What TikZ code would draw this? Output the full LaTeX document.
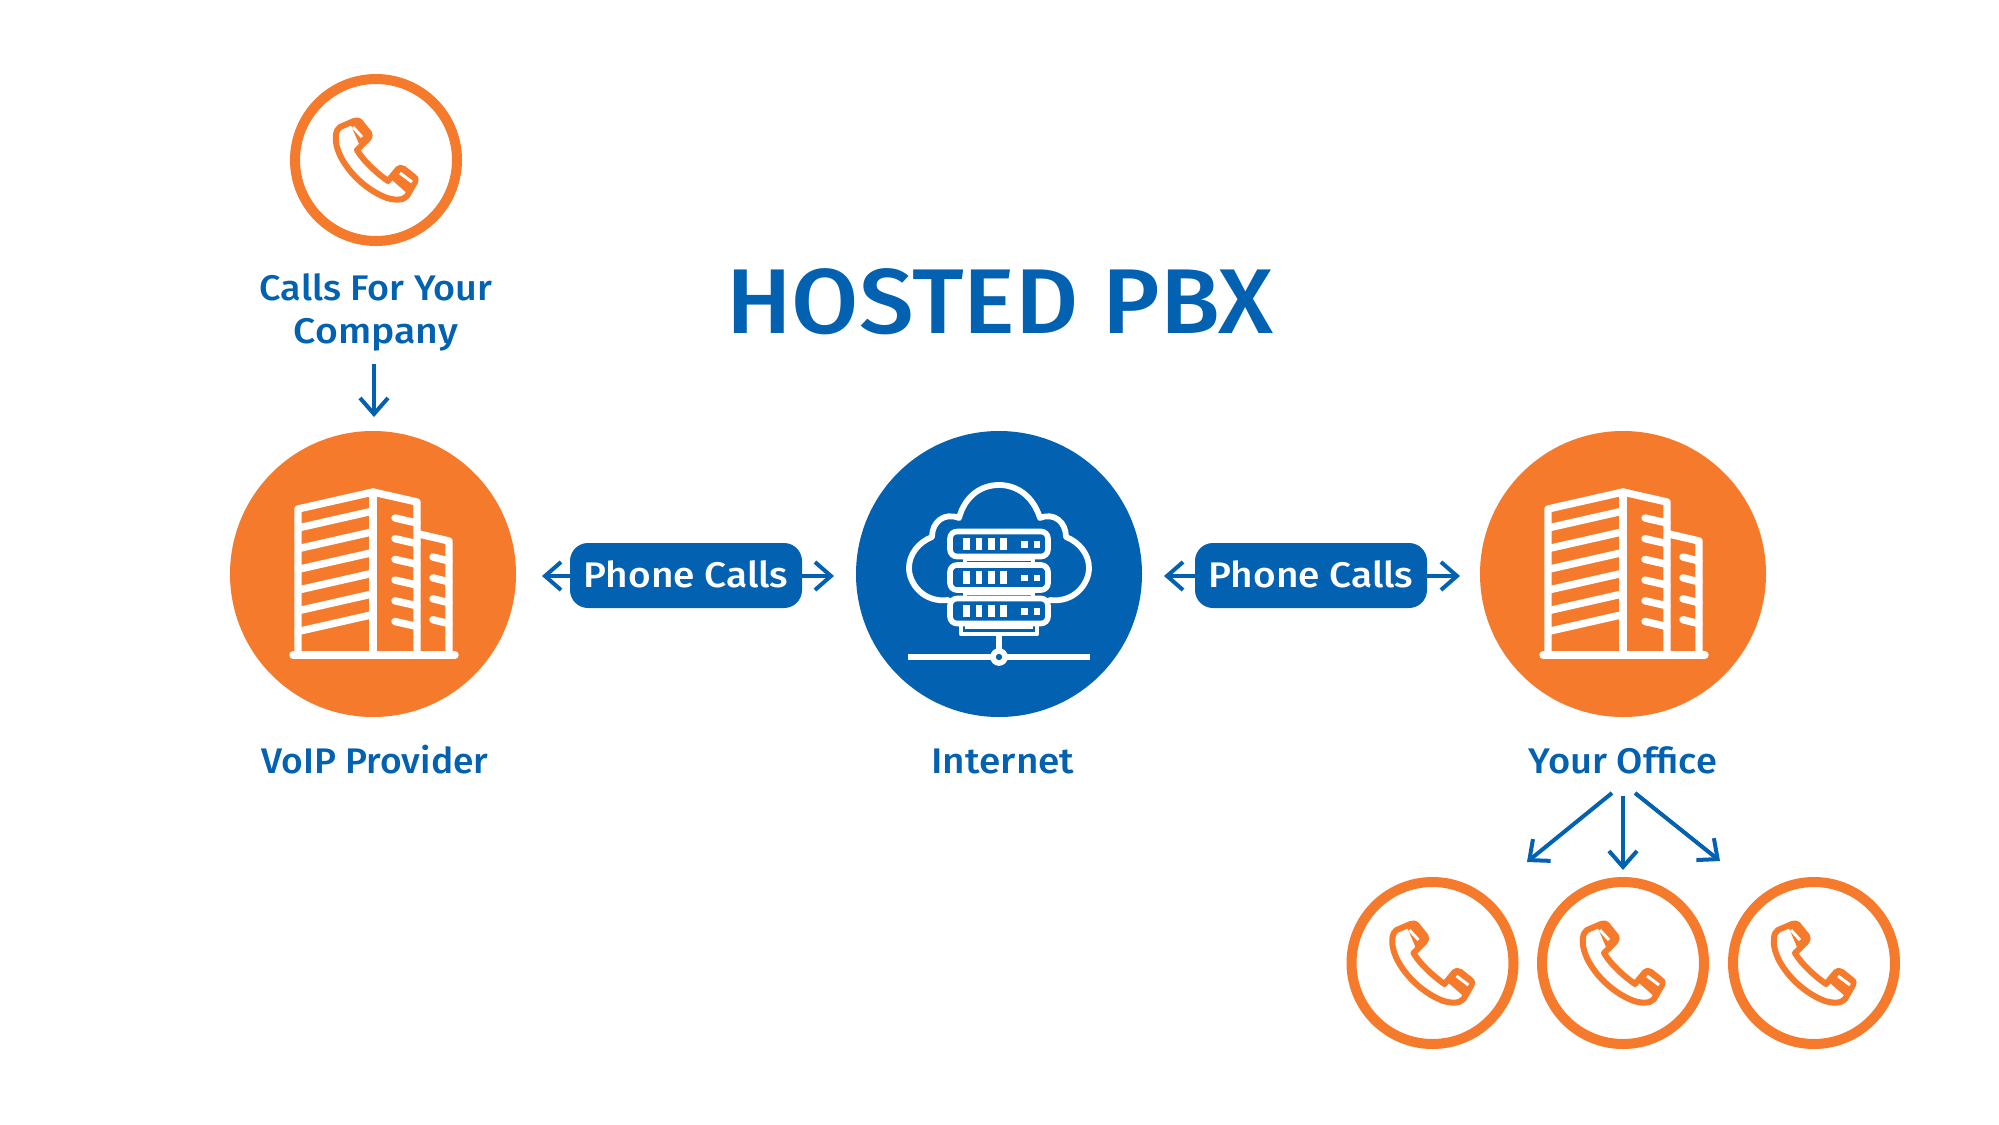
\documentclass[tikz,border=0pt]{standalone}
\usepackage{fontspec}
\setmainfont{Open Sans}
\usetikzlibrary{arrows.meta}
\definecolor{vorange}{HTML}{F57A2B}
\definecolor{vblue}{HTML}{0361B1}
\newfontfamily\medface{Fira Sans Medium}
\newcommand{\widetxt}[2]{\scalebox{#1}[1]{#2}}
\tikzset{
 arr/.style={draw=vblue,line width=2pt,-{Straight Barb[length=8pt,width=14pt,line width=2pt]}},
 ring/.style={circle,draw=vorange,line width=5pt,minimum size=81pt,inner sep=0pt,fill=white},
 bigdisc/.style={circle,minimum size=143pt,inner sep=0pt},
 lbl/.style={anchor=base,inner sep=0pt,text=vblue,font=\medface\fontsize{17.8}{20}\selectfont},
 pilltxt/.style={anchor=base,inner sep=0pt,text=white,font=\medface\fontsize{17.8}{20}\selectfont},
 pill/.style={rounded corners=9pt,fill=vblue,minimum width=116pt,minimum height=32.5pt,inner sep=0pt},
 iconw/.style={draw=white,line width=3.7pt,line join=round,line cap=round},
 phoneline/.style={draw=vorange,line width=3pt,line join=round,line cap=round},
}
\newcommand{\handset}[1]{%
 \begin{scope}[shift={(#1)}]
  \fill[vorange] (-26,-37) -- (-16,-38) -- (-7,-25) -- (-17,-16) -- cycle;
  \fill[vorange] (23,9) -- (38,17) -- (39,23) -- (32,34) -- (16,20) -- cycle;
  \draw[phoneline] (-22,-39) -- (-36,-33) .. controls (-41,-30) and (-41,-20) .. (-39,-13)
    .. controls (-34,6) and (-13,29) .. (11,38) .. controls (18,40) and (27,41) .. (31,36)
    -- (39,22) .. controls (40,19) and (40,18) .. (38,17) -- (28,9) .. controls (26,7) and (23,8) .. (22,9)
    -- (12,21) .. controls (2,14) and (-12,2) .. (-19,-10) -- (-8,-21) .. controls (-6,-23) and (-6,-25) .. (-7,-27)
    -- (-15,-37) .. controls (-17,-40) and (-20,-40) .. (-22,-39) -- cycle;
  \draw[white,line width=1.5pt] (-23,-33) -- (-14,-23);
  \draw[white,line width=1.5pt] (24,13) -- (36,22);
 \end{scope}}
\newcommand{\towerblock}[1]{%
 \begin{scope}[shift={(#1)}]
  \draw[iconw] (-75,81) -- (-75,-65) -- (0,-82) -- (44,-72) -- (44,81);
  \draw[iconw] (0,-82) -- (0,81);
  \draw[iconw] (46,-40) -- (76,-33) -- (76,81);
  \draw[iconw] (-80,81) -- (82,81);
  \foreach \k in {0,...,5}{
    \draw[iconw,line cap=butt] (-75,-46+20.7*\k) -- (0,-63+20.7*\k);
    \draw[iconw] (22,-56+20.7*\k) -- (44,-51+20.7*\k);
  }
  \foreach \k in {0,...,3}{
    \draw[iconw] (60,-17+20.9*\k) -- (76,-13+20.9*\k);
  }
 \end{scope}}
\newcommand{\serverrow}[1]{%
  \draw[draw=white,line width=2.8pt,rounded corners=3.5pt] (-49,#1-12.5) rectangle (49,#1+12.5);
  \foreach \q in {-36,-23.5,-11,1}{\fill[white] (\q,#1-6.5) rectangle ++(6.5,12.5);}
  \foreach \q in {22,34.5}{\fill[white] (\q,#1-3) rectangle ++(6.5,6.5);}
}
\begin{document}
\begin{tikzpicture}[x=0.5pt,y=-0.5pt]
\useasboundingbox (0,0) rectangle (1999,1125);
\fill[white] (0,0) rectangle (1999,1125);

% top phone
\node[ring] (calls) at (376,160) {};
\handset{376,160}
\node[lbl] (callslabel) at (376,300) {\widetxt{1.06}{Calls For Your}};
\node[lbl] (companylabel) at (376,343) {\widetxt{1.1}{Company}};

\node[anchor=base,inner sep=0pt,text=vblue,font=\medface\fontsize{46}{50}\selectfont] (title) at (1000,333) {\scalebox{1.06}[1]{HOSTED PBX}};

% big discs
\node[bigdisc,fill=vorange] (voip) at (373,574) {};
\node[bigdisc,fill=vblue] (net) at (999,574) {};
\node[bigdisc,fill=vorange] (office) at (1623,574) {};
\towerblock{373,574}
\towerblock{1623,574}

% internet icon
\begin{scope}[shift={(999,574)}]
  \draw[iconw,line width=2.9pt] (-51,26) .. controls (-75,29) and (-90,10) .. (-90,-6)
     .. controls (-90,-20) and (-80,-32) .. (-67,-37)
     .. controls (-67,-52) and (-55,-62) .. (-40,-56)
     .. controls (-34,-78) and (-18,-89) .. (0,-89)
     .. controls (18,-89) and (34,-78) .. (41,-56)
     .. controls (55,-62) and (67,-52) .. (67,-37)
     .. controls (80,-32) and (90,-20) .. (90,-6)
     .. controls (90,10) and (75,29) .. (51,26);
  \fill[vblue] (-49,-45) rectangle (49,53);
  \serverrow{-30}
  \serverrow{3.5}
  \serverrow{37}
  \draw[draw=white,line width=1.6pt] (-34,-17) -- (-34,-9) (34,-17) -- (34,-9) (-34,-15) -- (34,-15);
  \draw[draw=white,line width=1.6pt] (-34,17) -- (-34,24) (34,17) -- (34,24) (-34,19) -- (34,19);
  \draw[draw=white,line width=2.2pt,line join=round] (-38,50) -- (-38,60) -- (38,60) -- (38,50);
  \draw[draw=white,line width=1.6pt] (-34,53) -- (34,53);
  \draw[draw=white,line width=3pt] (0,60) -- (0,76);
  \draw[draw=white,line width=3pt] (-91,83) -- (91,83);
  \draw[draw=white,fill=vblue,line width=2.8pt] (0,83) circle (6);
\end{scope}

% pills
\node[pill] (pa) at (686,575.5) {};
\node[pilltxt] (pat) at (686,587) {\widetxt{1.09}{Phone Calls}};
\node[pill] (pb) at (1311,575.5) {};
\node[pilltxt] (pbt) at (1311,587) {\widetxt{1.09}{Phone Calls}};

\node[lbl] (voiplabel) at (375,773) {\widetxt{1.045}{VoIP Provider}};
\node[lbl] (netlabel) at (1003,773) {\widetxt{1.09}{Internet}};
\node[lbl] (officelabel) at (1623,773) {\widetxt{1.07}{Your Office}};

% bottom phones
\node[ring] (ph1) at (1432.5,963) {};
\node[ring] (ph2) at (1623,963) {};
\node[ring] (ph3) at (1814,963) {};
\handset{1432.5,963}
\handset{1623,963}
\handset{1814,963}

% connector ends
\coordinate (c1) at (374,364);
\coordinate (c2) at (374,417);
\coordinate (t1) at (542,576);
\coordinate (t2) at (834,576);
\coordinate (t3) at (1164,576);
\coordinate (t4) at (1460,576);
\coordinate (o0) at (1612,793);
\coordinate (o1) at (1527,862);
\coordinate (o2) at (1623,796);
\coordinate (o3) at (1623,870);
\coordinate (o4) at (1635,793);
\coordinate (o5) at (1720,861);

\draw[arr] (c1) -- (c2);
\draw[arr] (pa.west |- t1) -- (t1);
\draw[arr] (pa.east |- t2) -- (t2);
\draw[arr] (pb.west |- t3) -- (t3);
\draw[arr] (pb.east |- t4) -- (t4);
\draw[arr] (o0) -- (o1);
\draw[arr] (o2) -- (o3);
\draw[arr] (o4) -- (o5);
\end{tikzpicture}
\end{document}
